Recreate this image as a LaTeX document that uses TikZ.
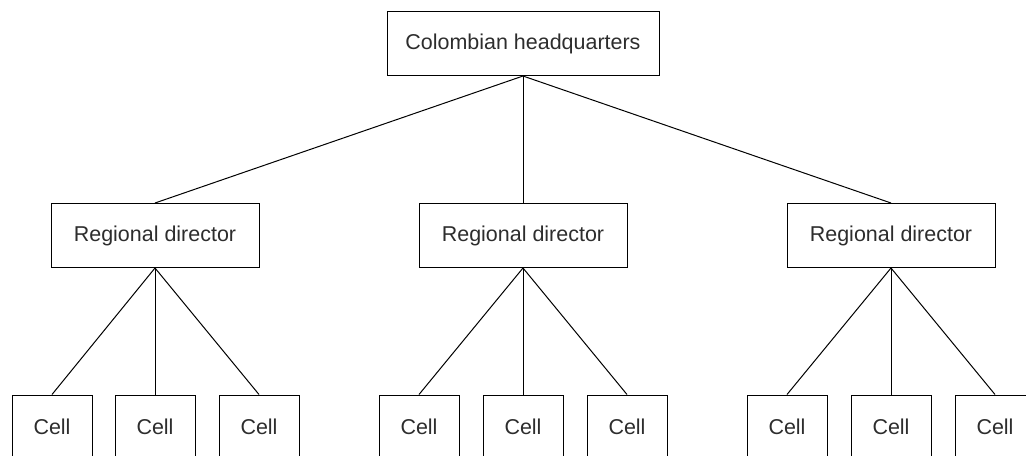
\documentclass[tikz,border=0pt]{standalone}
\usepackage{fontspec}
\setmainfont{Liberation Sans}
\usepackage{tikz}
\usetikzlibrary{positioning}

\definecolor{inkgray}{RGB}{45,45,45}
\tikzset{
    box/.style={draw=black, line width=0.75pt, text=inkgray, inner sep=0pt,
        font=\fontsize{16.1}{19}\selectfont, minimum height=64*0.75pt},
    hqbox/.style={box, minimum width=272*0.75pt},
    rdbox/.style={box, minimum width=208*0.75pt},
    cellbox/.style={box, minimum width=80*0.75pt},
    link/.style={draw=black, line width=0.75pt}
}

\begin{document}
\begin{tikzpicture}[x=0.75pt, y=-0.75pt]
    \clip (0, 0) rectangle (1026, 455);

    % top
    \node[hqbox] (hq) at (523, 43.5) {Colombian headquarters};

    % regional level
    \node[rdbox] (rd1) at (155, 235.5) {Regional director};
    \node[rdbox] (rd2) at (523, 235.5) {Regional director};
    \node[rdbox] (rd3) at (891, 235.5) {Regional director};

    % cells, cut off by the lower edge
    \node[cellbox] (c11) at (52, 427) {Cell};
    \node[cellbox] (c12) at (155, 427) {Cell};
    \node[cellbox] (c13) at (259, 427) {Cell};
    \node[cellbox] (c21) at (419, 427) {Cell};
    \node[cellbox] (c22) at (523, 427) {Cell};
    \node[cellbox] (c23) at (627, 427) {Cell};
    \node[cellbox] (c31) at (787, 427) {Cell};
    \node[cellbox] (c32) at (891, 427) {Cell};
    \node[cellbox] (c33) at (995, 427) {Cell};

    \draw[link] (hq.south) -- (rd1.north);
    \draw[link] (hq.south) -- (rd2.north);
    \draw[link] (hq.south) -- (rd3.north);

    \draw[link] (rd1.south) -- (c11.north);
    \draw[link] (rd1.south) -- (c12.north);
    \draw[link] (rd1.south) -- (c13.north);
    \draw[link] (rd2.south) -- (c21.north);
    \draw[link] (rd2.south) -- (c22.north);
    \draw[link] (rd2.south) -- (c23.north);
    \draw[link] (rd3.south) -- (c31.north);
    \draw[link] (rd3.south) -- (c32.north);
    \draw[link] (rd3.south) -- (c33.north);
\end{tikzpicture}
\end{document}
